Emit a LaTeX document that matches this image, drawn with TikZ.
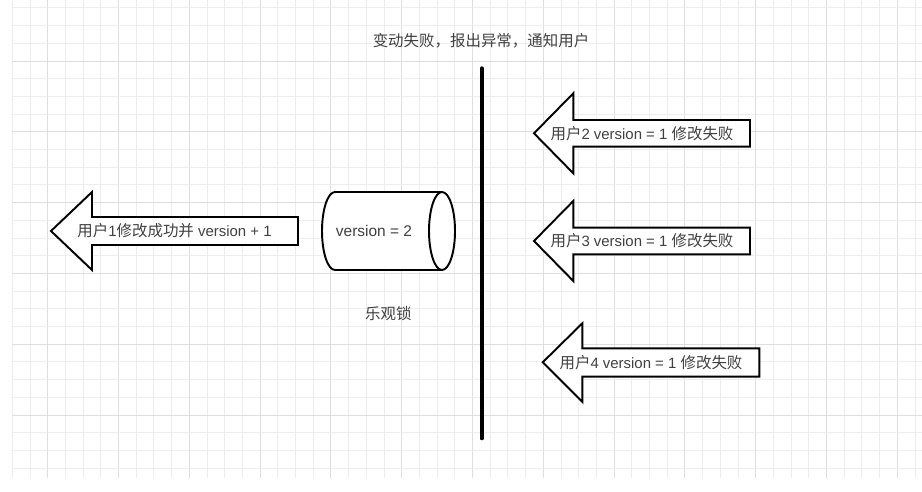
\documentclass[tikz,border=0pt]{standalone}
\usepackage{fontspec}
\setmainfont{Liberation Sans}
\newfontfamily\cjk{Noto Sans CJK SC}
\newcommand{\zh}[1]{{\fontsize{8.8}{10}\selectfont\cjk #1}}
\usepackage{tikz}
\usetikzlibrary{calc}

\begin{document}
\begin{tikzpicture}[x=0.02cm, y=-0.02cm,
    minorline/.style={draw=black!7, line width=0.5pt},
    majorline/.style={draw=black!13, line width=0.5pt},
    arrowshape/.style={draw=black, line width=1.1pt, fill=white, line join=miter},
    lbl/.style={text=black!75, font=\fontsize{8.5}{10}\selectfont, inner sep=0pt}]
        \useasboundingbox (0,0) rectangle (922,491);
        % Lưới nền
        \fill[white] (0,0) rectangle (922,491);
        \foreach \i in {0,...,51} {
            \pgfmathtruncatemacro{\m}{mod(\i,4)}
            \ifnum\m=2 \draw[majorline] (12.3+\i*17.7,0) -- (12.3+\i*17.7,478);
            \else \draw[minorline] (12.3+\i*17.7,0) -- (12.3+\i*17.7,478); \fi
        }
        \foreach \j in {0,...,26} {
            \pgfmathtruncatemacro{\m}{mod(\j,4)}
            \ifnum\m=3 \draw[majorline] (12.3,7.9+\j*17.7) -- (922,7.9+\j*17.7);
            \else \draw[minorline] (12.3,7.9+\j*17.7) -- (922,7.9+\j*17.7); \fi
        }
        % Tiêu đề
        \node[lbl] (title) at (481,40.7) {\zh{变动失败，报出异常，通知用户}};
        % Đường phân cách
        \coordinate (sepTop) at (481.7,68.3);
        \coordinate (sepBot) at (481.7,438.3);
        \draw[line width=2.3pt, line cap=round] (sepTop) -- (sepBot);
        % Mũi tên user 1
        \draw[arrowshape] (51,231) -- (92,192) -- (92,217) -- (298,217)
            -- (298,245) -- (92,245) -- (92,270) -- cycle;
        \node[lbl] (user1) at (174.5,231) {\zh{用户}1\zh{修改成功并} version + 1};
        % Cylinder version
        \draw[arrowshape] (442,192) -- (335,192)
            arc[start angle=270, end angle=90, x radius=13, y radius=39]
            -- (442,270);
        \draw[arrowshape] (442,231) ellipse[x radius=13, y radius=39];
        \node[lbl, font=\fontsize{8.8}{10}\selectfont] (version) at (374,231) {version = 2};
        \node[lbl] (lock) at (388.3,313.3) {\zh{乐观锁}};
        % Mũi tên user 2
        \draw[arrowshape] (534,133.3) -- (573.3,93.3) -- (573.3,120) -- (750,120)
            -- (750,146.7) -- (573.3,146.7) -- (573.3,173.3) -- cycle;
        \node[lbl] (user2) at (642,133.3) {\zh{用户}2 version = 1 \zh{修改失败}};
        % Mũi tên user 3
        \draw[arrowshape] (534,241) -- (573.3,201) -- (573.3,227.7) -- (750,227.7)
            -- (750,254.3) -- (573.3,254.3) -- (573.3,281) -- cycle;
        \node[lbl] (user3) at (642,241) {\zh{用户}3 version = 1 \zh{修改失败}};
        % Mũi tên user 4
        \draw[arrowshape] (542.7,362.3) -- (582.3,323.3) -- (582.3,348.3) -- (759.3,348.3)
            -- (759.3,376.7) -- (582.3,376.7) -- (582.3,401.7) -- cycle;
        \node[lbl] (user4) at (651,362.3) {\zh{用户}4 version = 1 \zh{修改失败}};
    \end{tikzpicture}
\end{document}
